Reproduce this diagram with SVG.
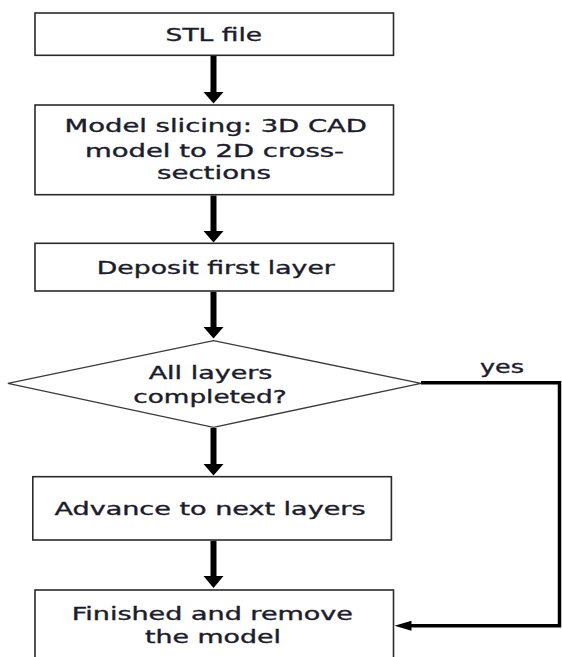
<svg xmlns="http://www.w3.org/2000/svg" width="562" height="657" viewBox="0 0 562 657">
<defs>
<style>
.box{fill:#fff;stroke:#2a2a2a;stroke-width:1.6}
.dia{fill:#fff;stroke:#3a3a3a;stroke-width:1.3}
.t{font-family:"DejaVu Sans",Verdana,sans-serif;font-size:17px;fill:#1c1c2c;stroke:#1c1c2c;stroke-width:0.35}
.c{fill:none;stroke:#000;stroke-width:6}
.y{fill:none;stroke:#000;stroke-width:3.5}
.h{fill:#000}
</style>
</defs>
<rect width="562" height="657" fill="#fff"/>
<g id="connectors">
<line class="c" x1="213.5" y1="56" x2="213.5" y2="92"/>
<path class="h" d="M203.5,92 L223.5,92 L213.5,103.5 Z"/>
<line class="c" x1="213.5" y1="195.5" x2="213.5" y2="231"/>
<path class="h" d="M203.5,231 L223.5,231 L213.5,242.5 Z"/>
<line class="c" x1="213.5" y1="291.8" x2="213.5" y2="327"/>
<path class="h" d="M203.5,327 L223.5,327 L213.5,338.5 Z"/>
<line class="c" x1="213.5" y1="428" x2="213.5" y2="464"/>
<path class="h" d="M203.5,464 L223.5,464 L213.5,475.5 Z"/>
<line class="c" x1="213.5" y1="540.8" x2="213.5" y2="576"/>
<path class="h" d="M203.5,576 L223.5,576 L213.5,588 Z"/>
<polyline class="y" points="421,382.7 559.5,382.7 559.5,625.8 410,625.8"/>
<path class="h" d="M394.5,625.8 L411.5,620.8 L411.5,630.8 Z"/>
<text class="t" x="480" y="372.5" textLength="44" lengthAdjust="spacingAndGlyphs">yes</text>
</g>
<g id="n1">
<rect class="box" x="35" y="13" width="358.5" height="42.3"/>
<text class="t" x="165.6" y="40.5" textLength="96.5" lengthAdjust="spacingAndGlyphs">STL file</text>
</g>
<g id="n2">
<rect class="box" x="35" y="105" width="358.5" height="89.7"/>
<text class="t" x="64.5" y="131.5" textLength="302.5" lengthAdjust="spacingAndGlyphs">Model slicing: 3D CAD</text>
<text class="t" x="85" y="156.7" textLength="259" lengthAdjust="spacingAndGlyphs">model to 2D cross-</text>
<text class="t" x="157" y="179.3" textLength="114" lengthAdjust="spacingAndGlyphs">sections</text>
</g>
<g id="n3">
<rect class="box" x="35" y="243.3" width="358.5" height="47.7"/>
<text class="t" x="96.8" y="274.3" textLength="238" lengthAdjust="spacingAndGlyphs">Deposit first layer</text>
</g>
<g id="n4">
<polygon class="dia" points="213.5,340.7 421,383.3 213.5,427.3 7.9,383.3"/>
<text class="t" x="148.7" y="379" textLength="123.7" lengthAdjust="spacingAndGlyphs">All layers</text>
<text class="t" x="133.3" y="402.7" textLength="153.4" lengthAdjust="spacingAndGlyphs">completed?</text>
</g>
<g id="n5">
<rect class="box" x="32.8" y="476.7" width="358.6" height="63.3"/>
<text class="t" x="54.5" y="515" textLength="311" lengthAdjust="spacingAndGlyphs">Advance to next layers</text>
</g>
<g id="n6">
<rect class="box" x="35" y="590" width="358.5" height="80"/>
<text class="t" x="71.7" y="620" textLength="281.3" lengthAdjust="spacingAndGlyphs">Finished and remove</text>
<text class="t" x="145" y="643.3" textLength="136" lengthAdjust="spacingAndGlyphs">the model</text>
</g>
</svg>
